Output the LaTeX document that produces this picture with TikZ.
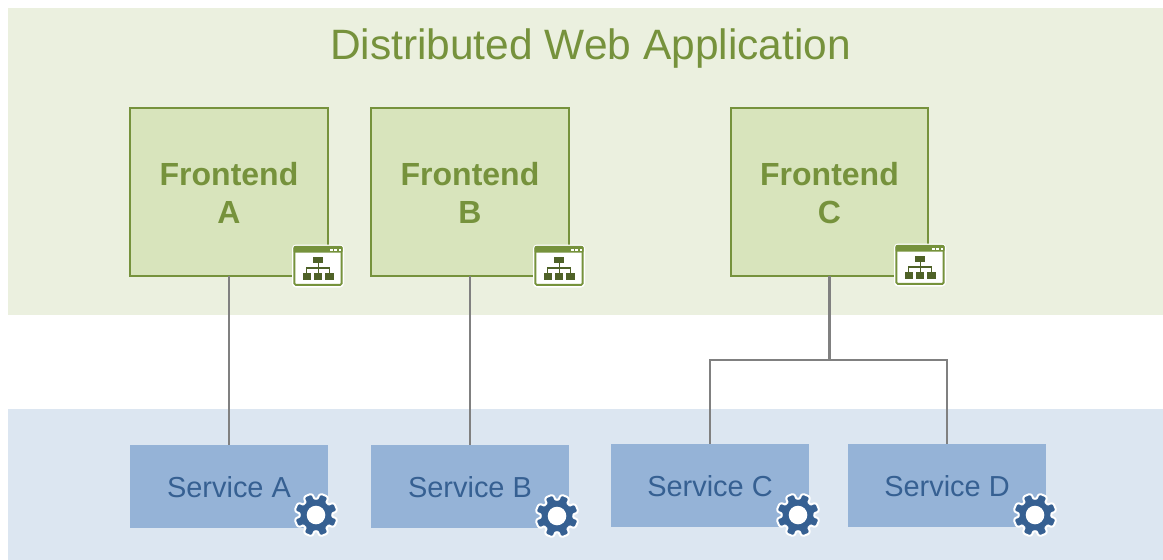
\documentclass[tikz,border=0pt]{standalone}
\usepackage{fontspec}
\setmainfont{Liberation Sans}
\definecolor{bgtop}{HTML}{EBF0DF}
\definecolor{bgbot}{HTML}{DCE6F1}
\definecolor{fefill}{HTML}{D8E4BC}
\definecolor{fegreen}{HTML}{76923C}
\definecolor{icondark}{HTML}{4F6228}
\definecolor{svfill}{HTML}{95B3D7}
\definecolor{svtext}{HTML}{366092}
\definecolor{linkgray}{HTML}{808080}
\newcommand{\lowerby}[1]{\raisebox{0pt}[\dimexpr\height+1.5pt\relax][\depth]{#1}}
\tikzset{
  x=0.75pt,y=-0.75pt,
  frontend/.style={draw=fegreen,line width=1.7pt,fill=fefill,minimum width=148pt,minimum height=125.5pt,inner sep=0pt,outer sep=0pt,align=center,text=fegreen,font=\fontsize{24}{28.5}\selectfont\bfseries},
  service/.style={fill=svfill,minimum width=148.5pt,minimum height=62.25pt,inner sep=0pt,outer sep=0pt,text=svtext,font=\fontsize{21.7}{25}\selectfont},
  link/.style={draw=linkgray,line width=2.2pt},
  pics/feicon/.style={code={
    \fill[white,rounded corners=3pt] (0,0) rectangle (52,43);
    \draw[fegreen,line width=1.4pt,rounded corners=1pt] (2.4,2.4) rectangle (49.6,40.4);
    \fill[fegreen,rounded corners=.8pt] (1.5,1.5) rectangle (50.5,8);
    \fill[white] (38,4) rectangle (40.7,6.3);
    \fill[white] (42.3,4) rectangle (45,6.3);
    \fill[white] (46.7,4) rectangle (49.3,6.3);
    \fill[icondark] (21.3,12.8) rectangle (31.3,18.8);
    \draw[icondark,line width=1pt] (26.3,18.8) -- (26.3,28.8) (14.7,28.8) -- (14.7,23.5) -- (37.6,23.5) -- (37.6,28.8);
    \fill[icondark] (10.7,28.8) rectangle (18.7,35.5);
    \fill[icondark] (22,28.8) rectangle (30.3,35.5);
    \fill[icondark] (33.3,28.8) rectangle (42,35.5);
  }},
  pics/gear/.style={code={
    \foreach \c/\e in {white/3.4,svtext/0.1}{
      \filldraw[fill=\c,draw=\c,line join=round,line width=\e pt,rounded corners=.8pt]
        (0:15.2)
        \foreach \a in {0,45,...,315}{
          -- ({\a+9}:15.2) -- ({\a+13}:20.5) -- ({\a+32}:20.5) -- ({\a+36}:15.2) -- ({\a+45}:15.2)
        } -- cycle;
    }
    \fill[white] (0,0) circle[radius=9.3];
  }}
}
\begin{document}
\begin{tikzpicture}
\useasboundingbox (0,0) rectangle (1163,560);
\fill[white] (0,0) rectangle (1163,560);
\fill[bgtop] (8,8) rectangle (1163,315);
\fill[bgbot] (8,409) rectangle (1163,560);
\node[text=fegreen,font=\fontsize{31.85}{38}\selectfont,inner sep=0pt] (title) at (590.5,49) {Distributed Web Application};
\node[frontend] (fa) at (229,192) {\lowerby{Frontend}\\A};
\node[frontend] (fb) at (470,192) {\lowerby{Frontend}\\B};
\node[frontend] (fc) at (829.5,192) {\lowerby{Frontend}\\C};
\node[service] (sa) at (229,486.5) {\lowerby{Service A}};
\node[service] (sb) at (470,486.5) {\lowerby{Service B}};
\node[service] (sc) at (710,485.5) {\lowerby{Service C}};
\node[service] (sd) at (947,485.5) {\lowerby{Service D}};
\coordinate (jc) at (829.5,360);
\draw[link] (fa) -- (sa);
\draw[link] (fb) -- (sb);
\draw[link] (fc) -- (jc);
\draw[link] (jc) -| (sc);
\draw[link] (jc) -| (sd);
\pic at (292,244.5) {feicon};
\pic at (533,244.5) {feicon};
\pic at (894,243.5) {feicon};
\pic at (316,515) {gear};
\pic at (557,516) {gear};
\pic at (798,515) {gear};
\pic at (1035,515) {gear};
\end{tikzpicture}
\end{document}
